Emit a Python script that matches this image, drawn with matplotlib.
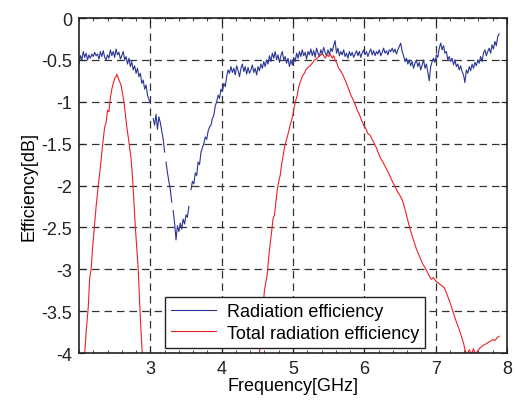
import numpy as np
import matplotlib
matplotlib.use("Agg")
import matplotlib.pyplot as plt
from matplotlib.ticker import MultipleLocator

nan = np.nan

# Radiation efficiency (blue); NaN marks gaps in the measured trace
rad_freq = [2.00, 2.02, 2.04, 2.06, 2.08, 2.10, 2.12, 2.14, 2.16, 2.18, 2.20, 2.22, 2.24, 2.26, 2.28, 2.30,
            2.32, 2.34, 2.36, 2.38, 2.40, 2.42, 2.44, 2.46, 2.48, 2.50, 2.52, 2.54, 2.56, 2.58, 2.60, 2.62,
            2.64, 2.66, 2.68, 2.70, 2.72, 2.74, 2.76, 2.78, 2.80, 2.82, 2.84, 2.86, 2.88, 2.90, 2.92, 2.94,
            2.96, 2.98, 3.00, 3.02, 3.04, 3.06, 3.08, 3.10, 3.12, 3.14, 3.16, 3.18, 3.20, 3.21, 3.22, 3.24,
            3.26, 3.28, 3.30, 3.31, 3.32, 3.34, 3.36, 3.38, 3.40, 3.42, 3.44, 3.46, 3.48, 3.50, 3.52, 3.54,
            3.56, 3.57, 3.59, 3.61, 3.63, 3.65, 3.67, 3.69, 3.71, 3.73, 3.75, 3.77, 3.79, 3.81, 3.83, 3.85,
            3.87, 3.89, 3.91, 3.93, 3.95, 3.97, 3.99, 4.01, 4.03, 4.05, 4.07, 4.09, 4.11, 4.13, 4.15, 4.17,
            4.19, 4.21, 4.23, 4.25, 4.27, 4.29, 4.31, 4.33, 4.35, 4.37, 4.39, 4.41, 4.43, 4.45, 4.47, 4.49,
            4.51, 4.53, 4.55, 4.57, 4.59, 4.61, 4.63, 4.65, 4.67, 4.69, 4.71, 4.73, 4.75, 4.77, 4.79, 4.81,
            4.83, 4.85, 4.87, 4.89, 4.91, 4.93, 4.95, 4.97, 4.99, 5.01, 5.03, 5.05, 5.07, 5.09, 5.11, 5.13,
            5.15, 5.17, 5.19, 5.21, 5.23, 5.25, 5.27, 5.29, 5.31, 5.33, 5.35, 5.37, 5.39, 5.41, 5.43, 5.45,
            5.47, 5.49, 5.51, 5.53, 5.55, 5.57, 5.59, 5.61, 5.63, 5.65, 5.67, 5.69, 5.71, 5.73, 5.75, 5.77,
            5.79, 5.81, 5.83, 5.85, 5.87, 5.89, 5.91, 5.93, 5.95, 5.97, 5.99, 6.01, 6.03, 6.05, 6.07, 6.09,
            6.11, 6.13, 6.15, 6.17, 6.19, 6.21, 6.23, 6.25, 6.27, 6.29, 6.31, 6.33, 6.35, 6.37, 6.39, 6.41,
            6.43, 6.45, 6.47, 6.49, 6.51, 6.53, 6.55, 6.57, 6.59, 6.61, 6.63, 6.65, 6.67, 6.69, 6.71, 6.73,
            6.75, 6.77, 6.79, 6.81, 6.83, 6.85, 6.87, 6.89, 6.91, 6.93, 6.95, 6.97, 6.99, 7.01, 7.03, 7.05,
            7.07, 7.09, 7.11, 7.13, 7.15, 7.17, 7.19, 7.21, 7.23, 7.25, 7.27, 7.29, 7.31, 7.33, 7.35, 7.37,
            7.39, 7.41, 7.43, 7.45, 7.47, 7.49, 7.51, 7.53, 7.55, 7.57, 7.59, 7.61, 7.63, 7.65, 7.67, 7.69,
            7.71, 7.73, 7.75, 7.77, 7.79, 7.81, 7.83, 7.85, 7.87, 7.89]
rad_eff = [-0.55, -0.45, -0.50, -0.40, -0.47, -0.42, -0.50, -0.44, -0.48, -0.43, -0.46, -0.41, -0.45, -0.43, -0.49, -0.40,
           -0.46, -0.39, -0.47, -0.50, -0.44, -0.48, -0.38, -0.45, -0.40, -0.47, -0.37, -0.44, -0.41, -0.49, -0.45, -0.40,
           -0.50, -0.46, -0.55, -0.48, -0.58, -0.52, -0.62, -0.57, -0.66, -0.60, -0.70, -0.66, -0.78, -0.74, -0.85, -0.80,
           -0.92, -0.97, -1.02, nan, -1.20, -1.28, -1.15, -1.33, -1.18, -1.25, -1.35, -1.45, -1.60, nan, -1.72, -1.85,
           -1.95, -2.05, -2.20, nan, -2.30, -2.45, -2.65, -2.48, -2.55, -2.45, -2.52, -2.40, -2.46, -2.35, -2.38, -2.25,
           nan, -2.05, -1.95, -1.98, -1.85, -1.88, -1.72, -1.75, -1.60, -1.55, -1.50, -1.42, -1.45, -1.35, -1.30, -1.28,
           -1.20, -1.16, -1.05, -1.00, -0.92, -0.96, -0.85, -0.88, -0.78, -0.82, -0.70, -0.62, -0.66, -0.58, -0.65, -0.60,
           -0.68, -0.57, -0.63, -0.70, -0.60, -0.55, -0.64, -0.58, -0.67, -0.59, -0.66, -0.62, -0.56, -0.65, -0.60, -0.68,
           -0.58, -0.63, -0.55, -0.60, -0.52, -0.58, -0.50, -0.55, -0.45, -0.52, -0.42, -0.48, -0.40, -0.50, -0.44, -0.53,
           -0.45, -0.40, -0.50, -0.46, -0.54, -0.48, -0.58, -0.50, -0.56, -0.47, -0.52, -0.42, -0.48, -0.40, -0.46, -0.38,
           -0.45, -0.41, -0.49, -0.40, -0.44, -0.37, -0.45, -0.39, -0.47, -0.36, -0.42, -0.46, -0.38, -0.43, -0.35, -0.41,
           -0.45, -0.38, -0.44, -0.36, -0.40, -0.33, -0.27, -0.42, -0.36, -0.45, -0.40, -0.44, -0.38, -0.46, -0.42, -0.48,
           -0.40, -0.45, -0.41, -0.47, -0.43, -0.39, -0.45, -0.40, -0.47, -0.42, -0.38, -0.44, -0.40, -0.46, -0.41, -0.37,
           -0.44, -0.39, -0.45, -0.40, -0.43, -0.38, -0.45, -0.41, -0.36, -0.42, -0.39, -0.44, -0.38, -0.40, -0.36, -0.41,
           -0.37, -0.43, -0.38, -0.34, -0.30, -0.40, -0.45, -0.52, -0.48, -0.55, -0.50, -0.57, -0.52, -0.60, -0.54, -0.50,
           -0.58, -0.53, -0.62, -0.56, -0.50, -0.60, -0.55, -0.65, -0.75, -0.58, -0.52, -0.48, -0.53, -0.44, -0.47, -0.36,
           -0.30, -0.38, -0.33, -0.42, -0.40, -0.50, -0.46, -0.52, -0.48, -0.56, -0.50, -0.58, -0.55, -0.62, -0.57, -0.64,
           -0.68, -0.77, -0.62, -0.66, -0.58, -0.63, -0.55, -0.60, -0.53, -0.57, -0.50, -0.54, -0.46, -0.52, -0.42, -0.38,
           -0.45, -0.40, -0.36, -0.42, -0.32, -0.37, -0.28, -0.33, -0.22, -0.19]

# Total radiation efficiency (red), two visible lobes; NaN separates them
tot_freq = [2.06, 2.08, 2.10, 2.12, 2.13, 2.15, 2.17, 2.19, 2.21, 2.22, 2.24, 2.26, 2.27, 2.29, 2.31, 2.32,
            2.34, 2.36, 2.38, 2.40, 2.42, 2.44, 2.46, 2.48, 2.50, 2.52, 2.53, 2.55, 2.57, 2.59, 2.61, 2.63,
            2.65, 2.67, 2.69, 2.71, 2.73, 2.75, 2.77, 2.79, 2.81, 2.83, 2.85, 2.87, 2.89, 2.90,
            3.50,
            4.50, 4.53, 4.56, 4.58, 4.60, 4.62, 4.64, 4.66, 4.68, 4.70, 4.72, 4.74, 4.76, 4.78, 4.80, 4.82,
            4.84, 4.86, 4.88, 4.90, 4.92, 4.94, 4.96, 4.98, 5.00, 5.02, 5.04, 5.06, 5.08, 5.10, 5.12, 5.14,
            5.16, 5.18, 5.20, 5.22, 5.24, 5.26, 5.28, 5.30, 5.33, 5.36, 5.39, 5.42, 5.45, 5.48, 5.50, 5.52,
            5.55, 5.57, 5.59, 5.62, 5.64, 5.66, 5.68, 5.70, 5.72, 5.75, 5.78, 5.81, 5.84, 5.87, 5.90, 5.93,
            5.96, 5.99, 6.02, 6.05, 6.08, 6.11, 6.14, 6.17, 6.20, 6.23, 6.26, 6.29, 6.32, 6.35, 6.38, 6.41,
            6.44, 6.47, 6.50, 6.53, 6.56, 6.59, 6.62, 6.64, 6.67, 6.70, 6.73, 6.76, 6.79, 6.82, 6.85, 6.88,
            6.91, 6.94, 6.97, 7.00, 7.03, 7.06, 7.09, 7.12, 7.15, 7.18, 7.21, 7.24, 7.27, 7.30, 7.33, 7.36,
            7.39, 7.41, 7.44, 7.47, 7.50, 7.53, 7.56, 7.59, 7.62, 7.65, 7.68, 7.71, 7.74, 7.77, 7.80, 7.83,
            7.86, 7.89]
tot_eff = [-4.30, -4.00, -3.75, -3.55, -3.45, -3.10, -3.00, -2.75, -2.55, -2.45, -2.25, -2.08, -2.00, -1.85, -1.70, -1.60,
           -1.45, -1.30, -1.25, -1.10, -1.12, -0.95, -0.85, -0.78, -0.72, -0.70, -0.67, -0.72, -0.76, -0.80, -0.90, -1.00,
           -1.15, -1.30, -1.42, -1.55, -1.68, -1.90, -2.20, -2.50, -2.75, -3.00, -3.40, -3.75, -4.05, -4.30,
           nan,
           -4.30, -4.00, -3.65, -3.45, -3.25, -3.15, -3.05, -2.85, -2.70, -2.55, -2.40, -2.35, -2.20, -2.05, -1.95, -1.88,
           -1.75, -1.65, -1.55, -1.48, -1.42, -1.35, -1.28, -1.22, -1.15, -1.05, -0.98, -0.92, -0.82, -0.77, -0.72, -0.68,
           -0.66, -0.62, -0.60, -0.58, -0.57, -0.55, -0.53, -0.50, -0.49, -0.46, -0.44, -0.43, -0.48, -0.44, -0.46, -0.43,
           -0.48, -0.45, -0.50, -0.55, -0.60, -0.62, -0.65, -0.68, -0.72, -0.78, -0.85, -0.92, -0.97, -1.03, -1.10, -1.15,
           -1.22, -1.28, -1.32, -1.38, -1.40, -1.45, -1.50, -1.55, -1.62, -1.68, -1.72, -1.77, -1.82, -1.87, -1.93, -1.98,
           -2.03, -2.08, -2.12, -2.17, -2.25, -2.35, -2.45, -2.52, -2.60, -2.68, -2.76, -2.82, -2.88, -2.94, -2.98, -3.03,
           -3.08, -3.12, -3.10, -3.14, -3.16, -3.18, -3.20, -3.22, -3.28, -3.35, -3.42, -3.50, -3.58, -3.65, -3.72, -3.80,
           -3.88, -3.96, -4.02, -3.96, -4.01, -3.95, -4.02, -3.97, -3.94, -3.92, -3.90, -3.89, -3.87, -3.86, -3.84, -3.85,
           -3.82, -3.80]

x_ticks = [3, 4, 5, 6, 7, 8]
x_tick_labels = ["3", "4", "5", "6", "7", "8"]
y_ticks = [0, -0.5, -1, -1.5, -2, -2.5, -3, -3.5, -4]
y_tick_labels = ["0", "-0.5", "-1", "-1.5", "-2", "-2.5", "-3", "-3.5", "-4"]

plt.rcParams['font.family'] = ['Liberation Sans', 'DejaVu Sans']

fig = plt.figure(figsize=(5.15, 4.02), dpi=100)
ax = fig.add_axes([0.1534, 0.1194, 0.8311, 0.8333])

ax.plot(rad_freq, rad_eff, color='#2a3593', lw=0.8, label='Radiation efficiency')
ax.plot(tot_freq, tot_eff, color='#ee2024', lw=0.8, label='Total radiation efficiency')

ax.set_xlim(2, 8)
ax.set_ylim(-4, 0)
ax.set_xticks(x_ticks)
ax.set_xticklabels(x_tick_labels)
ax.set_yticks(y_ticks)
ax.set_yticklabels(y_tick_labels)
ax.xaxis.set_minor_locator(MultipleLocator(0.2))

ax.tick_params(which='both', direction='in', top=True, right=True, labelsize=13, colors='#222222')
ax.tick_params(which='major', length=4, width=0.8)
ax.tick_params(which='minor', length=2.5, width=0.6)
ax.tick_params(axis='x', pad=5)
ax.tick_params(axis='y', pad=5)

ax.grid(True, which='major', color='#333333', linestyle=(0, (6, 4)), linewidth=0.9)

for s in ax.spines.values():
    s.set_linewidth(1.2)
    s.set_color('#222222')

ax.set_xlabel('Frequency[GHz]', fontsize=13, labelpad=0)
ax.set_ylabel('Efficiency[dB]', fontsize=13, labelpad=3)

leg = ax.legend(loc='lower left', bbox_to_anchor=(0.20, 0.015), fontsize=13, fancybox=False,
                edgecolor='#222222', framealpha=1, handlelength=2.5, borderpad=0.35,
                labelspacing=0.25, borderaxespad=0, handletextpad=0.6)
leg.get_frame().set_linewidth(1.0)

fig.savefig('out.png', dpi=100)
